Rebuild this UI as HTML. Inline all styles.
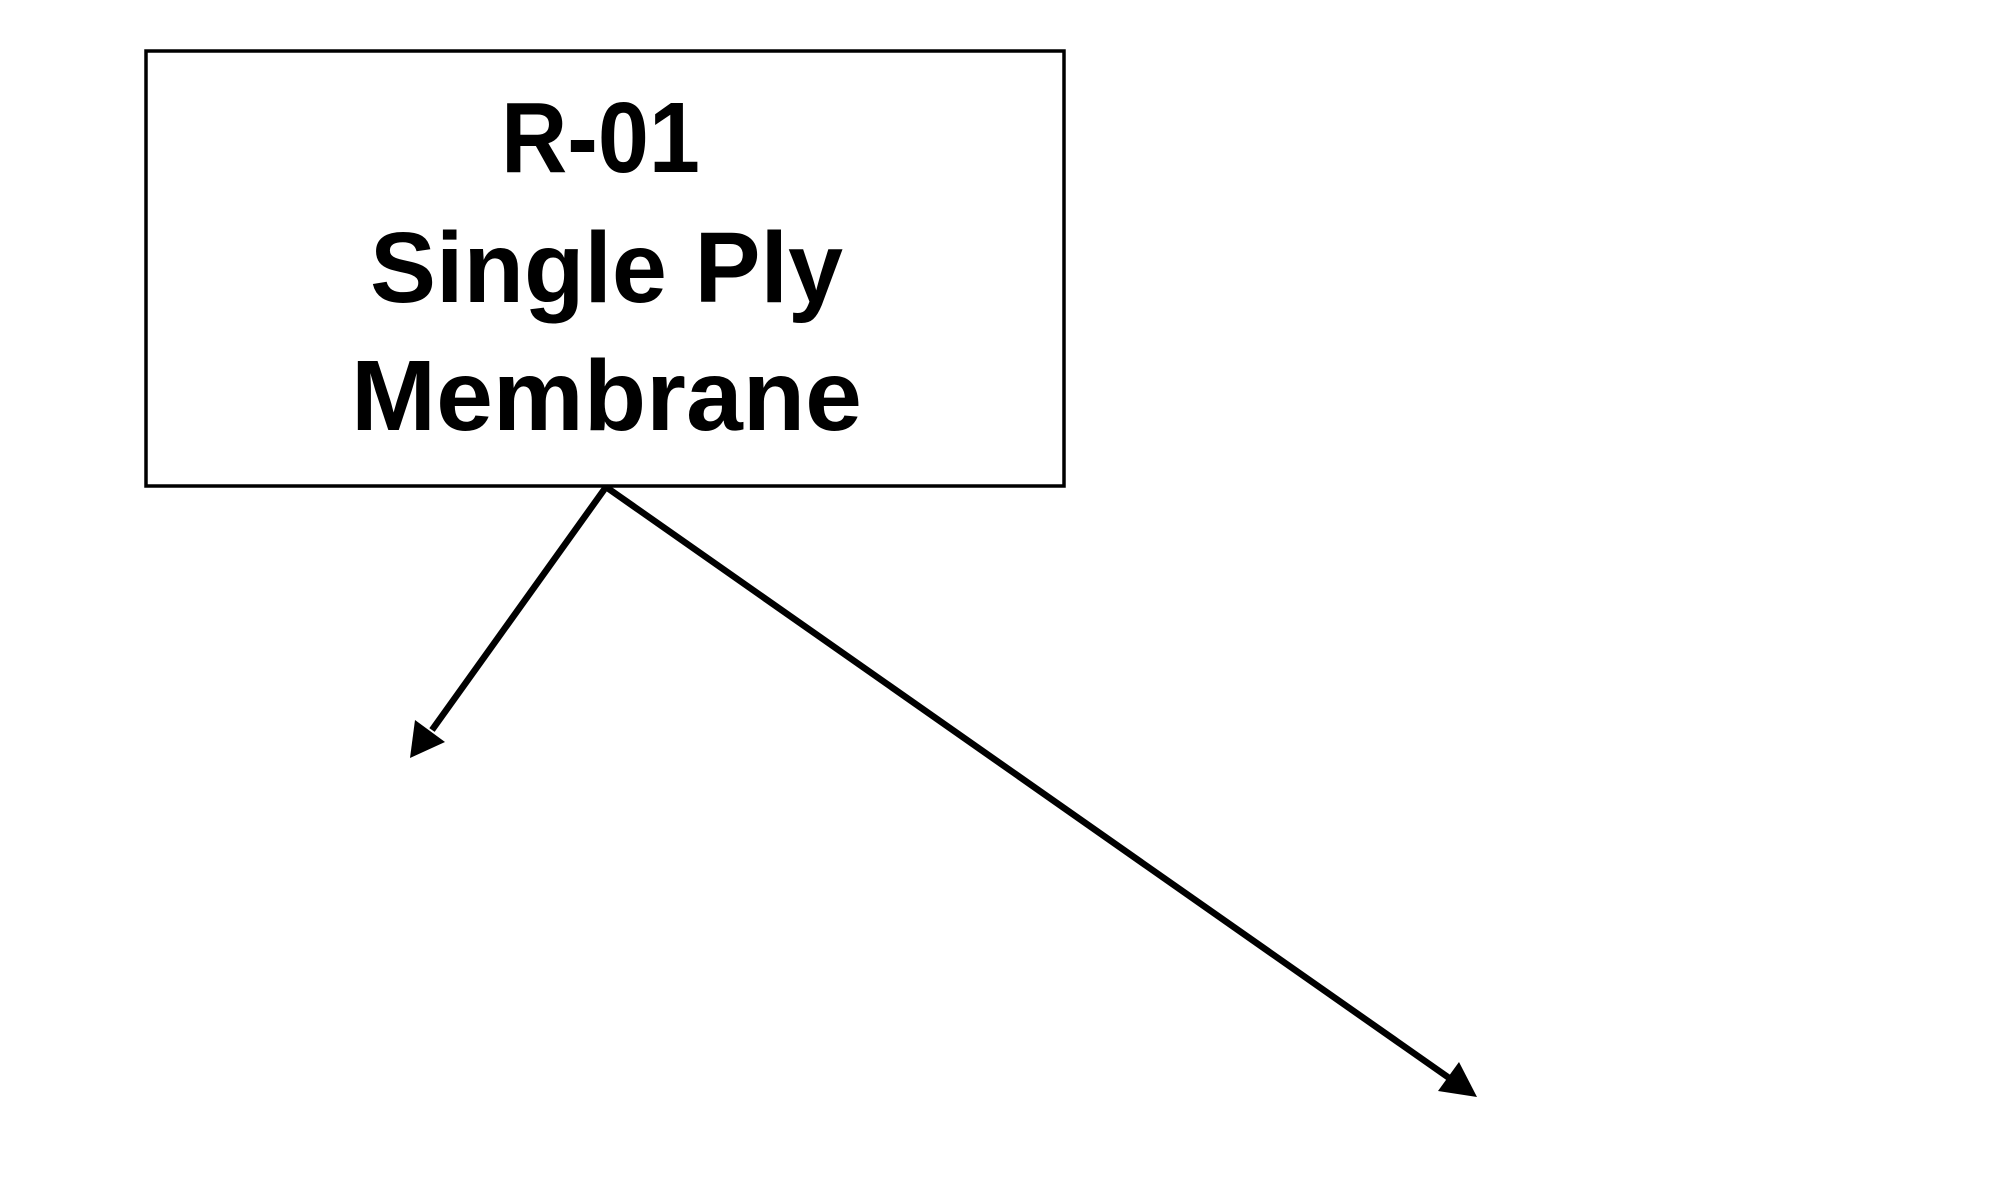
<!DOCTYPE html>
<html><head><meta charset="utf-8"><style>html,body{margin:0;padding:0;background:#fff;}svg{display:block}</style></head>
<body>
<svg width="2008" height="1181" viewBox="0 0 2008 1181" xmlns="http://www.w3.org/2000/svg">
<rect x="146" y="51" width="918" height="435" fill="none" stroke="#000" stroke-width="3.5"/>
<g font-family="Liberation Sans, sans-serif" font-weight="bold" font-size="100" fill="#000">
<text x="501" y="172" textLength="199" lengthAdjust="spacingAndGlyphs">R-01</text>
<text x="370" y="302" textLength="473" lengthAdjust="spacingAndGlyphs">Single Ply</text>
<text x="351" y="430" textLength="511" lengthAdjust="spacingAndGlyphs">Membrane</text>
</g>
<g stroke="#000" stroke-width="6.5" fill="none">
<line x1="606" y1="487" x2="432" y2="730"/>
<line x1="606" y1="487" x2="1452" y2="1080"/>
</g>
<polygon points="410,758 415,720 445,742" fill="#000"/>
<polygon points="1477,1097 1459,1062 1438,1091" fill="#000"/>
</svg>
</body></html>
